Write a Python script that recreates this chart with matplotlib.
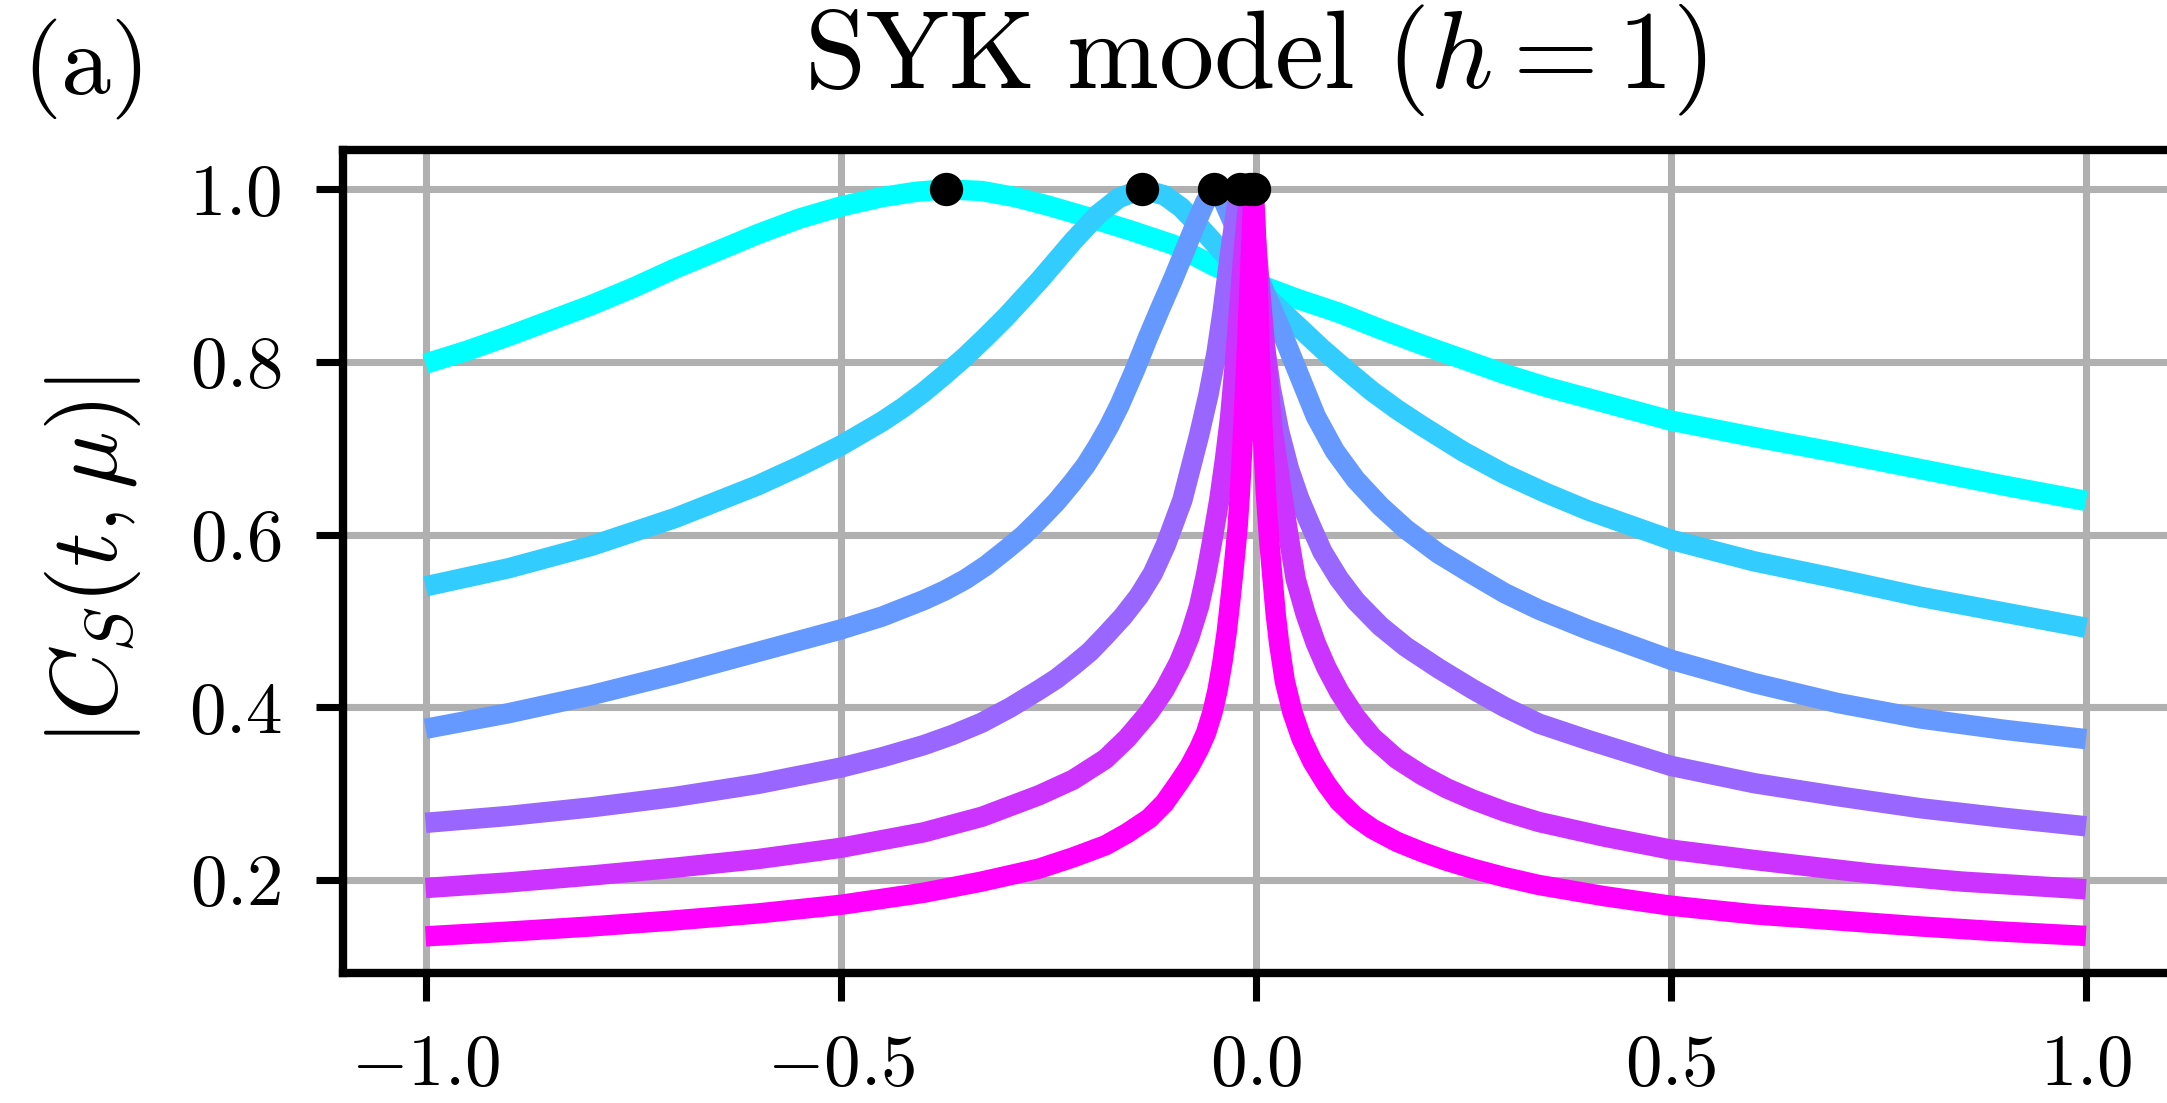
import matplotlib
matplotlib.use("Agg")
import matplotlib.pyplot as plt
from matplotlib.ticker import FuncFormatter

plt.rcParams["mathtext.fontset"] = "cm"
plt.rcParams["font.family"] = "serif"
plt.rcParams["font.serif"] = ["cmr10", "DejaVu Serif"]

# |C_S(t, mu)| curves, one per time t
mu1 = [-1.0, -0.95, -0.9, -0.85, -0.8, -0.75, -0.7, -0.65, -0.6, -0.55, -0.5, -0.45,
       -0.41, -0.373, -0.33, -0.29, -0.25, -0.2, -0.15, -0.1, -0.05, 0.0, 0.05, 0.1,
       0.15, 0.2, 0.25, 0.3, 0.35, 0.4, 0.45, 0.5, 0.6, 0.7, 0.8, 0.9, 1.0]
c1 = [0.798, 0.813, 0.830, 0.848, 0.866, 0.886, 0.908, 0.928, 0.948, 0.966, 0.980, 0.991,
      0.997, 1.0, 0.998, 0.991, 0.981, 0.967, 0.952, 0.936, 0.911, 0.891, 0.873, 0.857,
      0.838, 0.820, 0.803, 0.786, 0.771, 0.758, 0.745, 0.732, 0.713, 0.695, 0.676, 0.657, 0.639]

mu2 = [-1.0, -0.9, -0.8, -0.7, -0.6, -0.55, -0.5, -0.45, -0.425, -0.4, -0.375, -0.35,
       -0.325, -0.3, -0.26, -0.22, -0.19, -0.165, -0.137, -0.11, -0.09, -0.068, -0.04,
       -0.011, 0.02, 0.05, 0.08, 0.11, 0.14, 0.17, 0.2, 0.25, 0.3, 0.35, 0.4, 0.5, 0.6,
       0.7, 0.8, 0.9, 1.0]
c2 = [0.540, 0.561, 0.587, 0.619, 0.657, 0.679, 0.703, 0.731, 0.747, 0.765, 0.785, 0.806,
      0.829, 0.853, 0.895, 0.940, 0.971, 0.990, 1.0, 0.993, 0.979, 0.957, 0.927,
      0.899, 0.869, 0.842, 0.815, 0.790, 0.766, 0.745, 0.726, 0.696, 0.670, 0.648, 0.628, 0.594, 0.569,
      0.549, 0.528, 0.510, 0.492]

mu3 = [-1.0, -0.9, -0.8, -0.7, -0.6, -0.5, -0.45, -0.4, -0.375, -0.35, -0.325, -0.3,
       -0.28, -0.261, -0.24, -0.221, -0.205, -0.19, -0.177, -0.164, -0.145, -0.13, -0.115,
       -0.1, -0.085, -0.072, -0.061, -0.0505, -0.042, -0.035, -0.02, 0.0, 0.029, 0.05,
       0.0723, 0.095, 0.12, 0.15, 0.181, 0.22, 0.261, 0.3, 0.341, 0.4, 0.5, 0.6, 0.7,
       0.8, 0.9, 1.0]
c3 = [0.375, 0.393, 0.414, 0.438, 0.464, 0.490, 0.505, 0.524, 0.535, 0.548, 0.564, 0.583,
      0.599, 0.617, 0.638, 0.660, 0.680, 0.703, 0.725, 0.750, 0.792, 0.828, 0.862,
      0.895, 0.930, 0.961, 0.985, 1.0, 0.994, 0.978, 0.946, 0.905, 0.840, 0.790,
      0.737, 0.697, 0.664, 0.633, 0.606, 0.578, 0.554, 0.532, 0.513, 0.490, 0.455, 0.428, 0.405,
      0.387, 0.374, 0.363]

mu4 = [-1.0, -0.9, -0.8, -0.7, -0.6, -0.5, -0.45, -0.4, -0.365, -0.33, -0.295, -0.261,
       -0.24, -0.22, -0.2, -0.181, -0.16, -0.1406, -0.124, -0.1084, -0.0884, -0.0683,
       -0.057, -0.0474, -0.04, -0.0353, -0.031, -0.027, -0.023, -0.0186, -0.014, -0.01,
       -0.005, 0.0, 0.01, 0.018, 0.0281, 0.04, 0.0522, 0.065, 0.0803, 0.1, 0.1205, 0.15,
       0.1807, 0.22, 0.261, 0.3, 0.341, 0.4, 0.5, 0.6, 0.7, 0.8, 0.9, 1.0]
c4 = [0.266, 0.274, 0.284, 0.296, 0.311, 0.330, 0.342, 0.356, 0.368, 0.382, 0.400, 0.420,
      0.433, 0.448, 0.464, 0.483, 0.505, 0.529, 0.555, 0.588, 0.640, 0.715,
      0.762, 0.810, 0.858, 0.893, 0.925, 0.953, 0.980, 1.0, 0.985, 0.960,
      0.925, 0.895, 0.825, 0.770, 0.720, 0.676, 0.642, 0.613, 0.580, 0.549, 0.523, 0.494,
      0.470, 0.445, 0.421, 0.400, 0.381, 0.362, 0.332, 0.312, 0.297, 0.283, 0.272, 0.262]

mu5 = [-1.0, -0.9, -0.8, -0.7, -0.6, -0.5, -0.4, -0.33, -0.261, -0.22, -0.181, -0.155,
       -0.1285, -0.11, -0.0924, -0.08, -0.0683, -0.06, -0.0522, -0.044, -0.037, -0.031,
       -0.025, -0.019, -0.014, -0.01, -0.0068, -0.003, 0.0, 0.005, 0.01, 0.015, 0.0201,
       0.0321, 0.04, 0.0482, 0.06, 0.0723, 0.085, 0.1004, 0.12, 0.1406, 0.17, 0.2008,
       0.23, 0.261, 0.3, 0.341, 0.42, 0.5, 0.6, 0.744, 0.85, 1.0]
c5 = [0.1905, 0.197, 0.205, 0.214, 0.224, 0.237, 0.255, 0.273, 0.298, 0.316, 0.340, 0.364,
      0.394, 0.420, 0.452, 0.481, 0.517, 0.553, 0.594, 0.640, 0.688, 0.735,
      0.800, 0.875, 0.935, 0.975, 1.0, 0.975, 0.945, 0.885, 0.830, 0.775, 0.721,
      0.644, 0.595, 0.548, 0.508, 0.474, 0.446, 0.418, 0.389, 0.365, 0.340, 0.321,
      0.306, 0.293, 0.279, 0.267, 0.250, 0.235, 0.223, 0.207, 0.198, 0.189]

mu6 = [-1.0, -0.9, -0.8, -0.7, -0.6, -0.5, -0.4, -0.33, -0.261, -0.22, -0.181, -0.155,
       -0.1285, -0.11, -0.0924, -0.08, -0.0683, -0.06, -0.0522, -0.046, -0.0402, -0.035,
       -0.0301, -0.026, -0.0221, -0.019, -0.016, -0.013, -0.01, -0.007, -0.0045, -0.0025,
       -0.0005, 0.002, 0.005, 0.008, 0.012, 0.016, 0.0201, 0.024, 0.0281, 0.035, 0.0442,
       0.055, 0.0683, 0.085, 0.1004, 0.12, 0.1406, 0.17, 0.2008, 0.23, 0.261, 0.3, 0.341,
       0.42, 0.5, 0.6, 0.7, 0.8, 0.9, 1.0]
c6 = [0.1345, 0.140, 0.146, 0.153, 0.161, 0.171, 0.185, 0.198, 0.213, 0.226, 0.240, 0.254,
      0.271, 0.289, 0.313, 0.331, 0.352, 0.370, 0.394, 0.420, 0.452, 0.487,
      0.529, 0.567, 0.606, 0.650, 0.705, 0.765, 0.830, 0.900, 0.955, 1.0,
      0.965, 0.900, 0.800, 0.725, 0.650, 0.595, 0.550, 0.508, 0.474, 0.430, 0.394,
      0.364, 0.337, 0.311, 0.291, 0.273, 0.259, 0.244, 0.232, 0.222, 0.213, 0.203, 0.194,
      0.181, 0.170, 0.160, 0.153, 0.146, 0.140, 0.135]

# maxima (black dots)
peak_mu = [-0.373, -0.137, -0.0505, -0.0186, -0.0068, -0.0025]
peak_c = [1.0, 1.0, 1.0, 1.0, 1.0, 1.0]

xticks = [-1.0, -0.5, 0.0, 0.5, 1.0]
yticks = [0.2, 0.4, 0.6, 0.8, 1.0]

fig = plt.figure(figsize=(2167 / 300, 1103 / 300), dpi=300)
ax = fig.add_axes([0.1581, 0.1176, 0.8428, 0.7464])

curves = [(mu1, c1), (mu2, c2), (mu3, c3), (mu4, c4), (mu5, c5), (mu6, c6)]
colors = plt.cm.cool([0.0, 0.2, 0.4, 0.6, 0.8, 1.0])
for (mu, c), col in zip(curves, colors):
    ax.plot(mu, c, color=col, lw=4.9, solid_capstyle="butt", solid_joinstyle="round", zorder=2)

ax.plot(peak_mu, peak_c, "o", color="black", ms=7, zorder=3)

ax.set_xlim(-1.1, 1.1)
ax.set_ylim(0.0917, 1.0455)
ax.set_xticks(xticks)
ax.set_yticks(yticks)
fmt = FuncFormatter(lambda v, pos: r"$%.1f$" % v)
ax.xaxis.set_major_formatter(fmt)
ax.yaxis.set_major_formatter(fmt)
ax.tick_params(labelsize=17.5, length=6.6, width=1.7, pad=8)
ax.grid(True, color="#b0b0b0", lw=1.7, zorder=0)
ax.set_axisbelow(True)
for s in ax.spines.values():
    s.set_linewidth(2.0)

ax.set_ylabel(r"$|C_S(t,\mu)|$", fontsize=23, labelpad=11)
ax.set_title(r"$\mathrm{SYK\ model}\ (h=1)$", fontsize=26.5, pad=15)
fig.text(0.01, 0.915, r"$\mathrm{(a)}$", fontsize=24, ha="left", va="baseline")

fig.savefig("out.png", dpi=300)
